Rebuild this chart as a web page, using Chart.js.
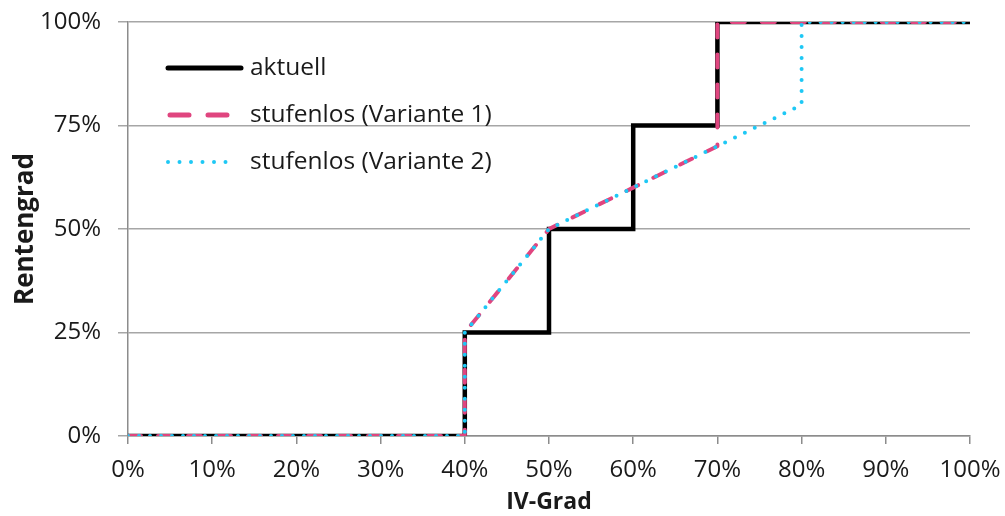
<!DOCTYPE html>
<html>
<head>
<meta charset="utf-8">
<script src="https://cdn.jsdelivr.net/npm/chart.js@4/dist/chart.umd.min.js"></script>
<style>
  html, body { margin: 0; padding: 0; background: #ffffff; }
  #wrap { width: 1005px; height: 516px; }
</style>
</head>
<body>
<div id="wrap"><canvas id="c" width="1005" height="516"></canvas></div>
<script>
// ---- data ----
const seriesNames = ['aktuell', 'stufenlos (Variante 1)', 'stufenlos (Variante 2)'];
const aktuellX = [0, 40, 40, 50, 50, 60, 60, 70, 70, 100];
const aktuellY = [0, 0, 25, 25, 50, 50, 75, 75, 100, 100];
const variante1X = [0, 40, 40, 50, 60, 70, 70, 100];
const variante1Y = [0, 0, 25, 50, 60, 70, 100, 100];
const variante2X = [0, 40, 40, 50, 60, 70, 80, 80, 100];
const variante2Y = [0, 0, 25, 50, 60, 70, 80, 100, 100];
const xTicks = [0, 10, 20, 30, 40, 50, 60, 70, 80, 90, 100];
const yTicks = [0, 25, 50, 75, 100];
const xTitle = 'IV-Grad';
const yTitle = 'Rentengrad';

const toPts = (xs, ys) => xs.map((x, i) => ({ x: x, y: ys[i] }));

const FONT = '"Open Sans", "Liberation Sans", sans-serif';
const TXT = '#1a1a1a';

const legendPlugin = {
  id: 'insideLegend',
  afterDraw(chart) {
    const ctx = chart.ctx;
    const rows = [68, 115, 162];
    const x0 = 168, x1 = 241, tx = 250;
    ctx.save();
    chart.data.datasets.forEach((ds, i) => {
      const y = rows[i];
      ctx.beginPath();
      ctx.strokeStyle = ds.borderColor;
      ctx.lineWidth = ds.legendWidth;
      ctx.lineCap = 'round';
      ctx.setLineDash(ds.legendDash);
      ctx.moveTo(x0 + ds.legendInset, y);
      ctx.lineTo(x1 - ds.legendInsetR, y);
      ctx.stroke();
      ctx.setLineDash([]);
      ctx.fillStyle = TXT;
      ctx.font = '24.5px ' + FONT;
      ctx.textBaseline = 'middle';
      ctx.textAlign = 'left';
      ctx.fillText(ds.label, tx, y);
    });
    ctx.restore();
  }
};

new Chart(document.getElementById('c'), {
  type: 'line',
  data: {
    datasets: [
      {
        label: seriesNames[0],
        data: toPts(aktuellX, aktuellY),
        borderColor: '#000000',
        borderWidth: 4.5,
        borderJoinStyle: 'miter',
        pointRadius: 0,
        order: 2,
        legendWidth: 5, legendDash: [], legendInset: 0, legendInsetR: 0
      },
      {
        label: seriesNames[1],
        data: toPts(variante1X, variante1Y),
        borderColor: '#E0457F',
        borderWidth: 4,
        borderDash: [13, 17],
        borderCapStyle: 'round',
        borderJoinStyle: 'round',
        pointRadius: 0,
        order: 1,
        legendWidth: 5, legendDash: [19, 19], legendInset: 2, legendInsetR: 11
      },
      {
        label: seriesNames[2],
        data: toPts(variante2X, variante2Y),
        borderColor: '#1EC8F5',
        borderWidth: 4,
        borderDash: [0, 11],
        borderCapStyle: 'round',
        borderJoinStyle: 'round',
        pointRadius: 0,
        order: 0,
        legendWidth: 4, legendDash: [0, 11.5], legendInset: 0, legendInsetR: 4
      }
    ]
  },
  options: {
    responsive: false,
    animation: false,
    devicePixelRatio: 1,
    layout: { padding: { top: 22, right: 35, bottom: 0, left: 0 } },
    plugins: {
      legend: { display: false },
      tooltip: { enabled: false }
    },
    elements: { line: { tension: 0 } },
    scales: {
      x: {
        type: 'linear',
        min: 0, max: 100,
        afterBuildTicks(scale) { scale.ticks = xTicks.map(v => ({ value: v })); },
        afterFit(scale) {
          scale.height = 80;
          scale.paddingLeft = 0; scale.paddingRight = 0;
        },
        ticks: {
          callback: v => v + '%',
          color: TXT,
          font: { family: FONT, size: 24 },
          padding: 12,
          maxRotation: 0,
          autoSkip: false
        },
        grid: {
          drawOnChartArea: false,
          drawTicks: true,
          tickLength: 8,
          color: '#8c8c8c',
          lineWidth: 1.5
        },
        border: { display: true, color: '#8c8c8c', width: 1.5 },
        title: {
          display: true,
          text: xTitle,
          color: TXT,
          font: { family: FONT, size: 23, weight: 'bold' },
          padding: { top: 0, bottom: 0 }
        }
      },
      y: {
        type: 'linear',
        min: 0, max: 100,
        afterBuildTicks(scale) { scale.ticks = yTicks.map(v => ({ value: v })); },
        afterFit(scale) {
          scale.width = 128;
          scale.paddingTop = 0; scale.paddingBottom = 0;
        },
        ticks: {
          callback: v => v + '%',
          color: TXT,
          font: { family: FONT, size: 24 },
          padding: 17,
          autoSkip: false
        },
        grid: {
          drawOnChartArea: true,
          drawTicks: true,
          tickLength: 10,
          color: '#a6a6a6',
          lineWidth: 1.5
        },
        border: { display: true, color: '#8c8c8c', width: 1.5 },
        title: {
          display: true,
          text: yTitle,
          color: TXT,
          font: { family: FONT, size: 26, weight: 'bold' },
          padding: { top: 10, bottom: 0 }
        }
      }
    }
  },
  plugins: [legendPlugin]
});
</script>
</body>
</html>
